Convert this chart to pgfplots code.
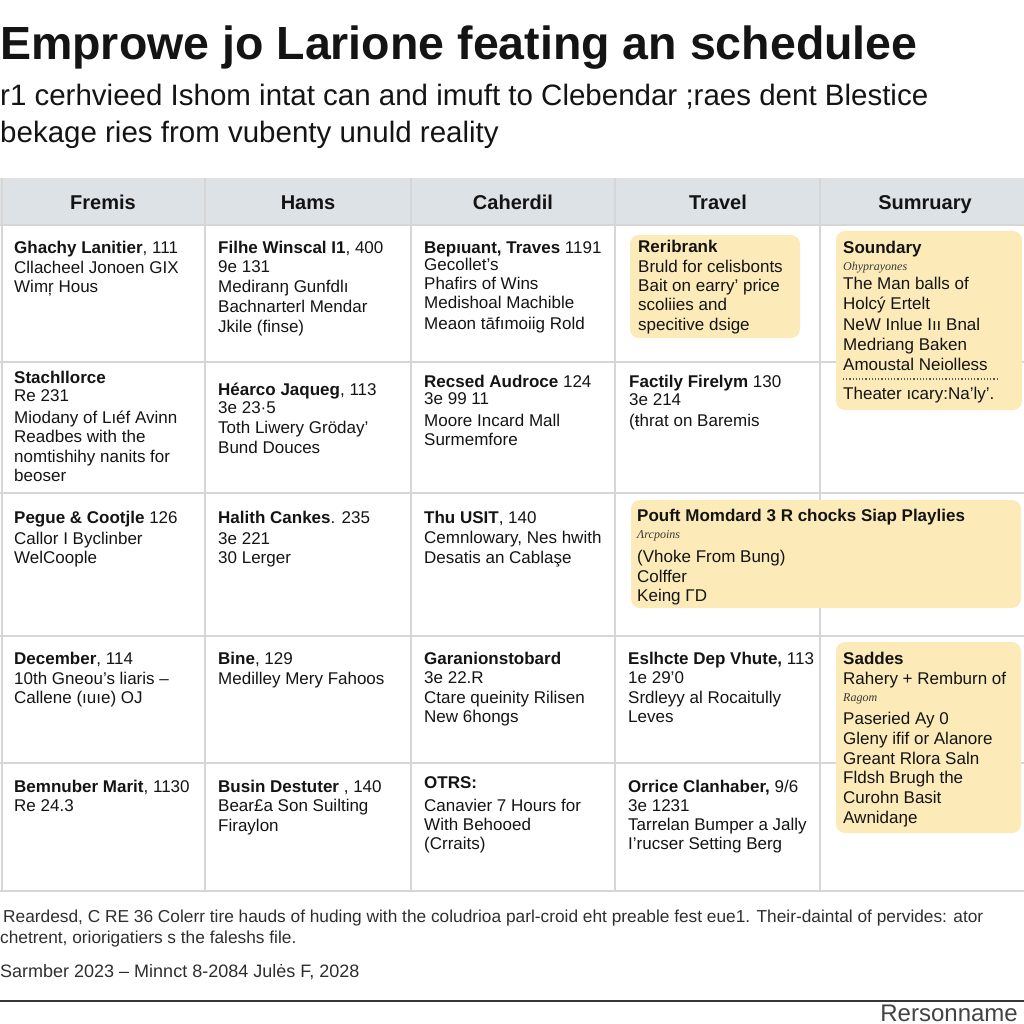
\documentclass[border=0pt]{standalone}
\usepackage{pgfplots}
\pgfplotsset{compat=1.18}
\usepackage{fontspec}
\setmainfont{Liberation Sans}
\newfontfamily\serifit{Liberation Serif}
\definecolor{hdr}{HTML}{DDE2E6}
\definecolor{gridc}{HTML}{D6D6D6}
\definecolor{boxc}{HTML}{FCEBB8}
\definecolor{txt}{HTML}{141414}
\definecolor{foot}{HTML}{2E2E2E}
\newcommand{\cf}{\fontsize{17}{20}\selectfont}
\newcommand{\Tx}[3]{\node[anchor=base west, inner sep=0pt, text=txt, font=\cf] at (axis cs:#1,#2) {#3};}
\newcommand{\Ix}[3]{\node[anchor=base west, inner sep=0pt, text=txt!85, font=\serifit\itshape\fontsize{12}{14}\selectfont] at (axis cs:#1,#2) {#3};}
\newcommand{\Hd}[2]{\node[anchor=base, inner sep=0pt, text=txt, font=\bfseries\fontsize{20}{24}\selectfont] at (axis cs:#1,210) {#2};}
\begin{document}
\begin{tikzpicture}
\begin{axis}[
  width=1024pt, height=1024pt, scale only axis,
  xmin=0, xmax=1024, ymin=0, ymax=1024, y dir=reverse,
  axis lines=none, clip=false,
]
% header band
\addplot[fill=hdr, draw=none] coordinates {(0,178) (1024,178) (1024,225) (0,225)} -- cycle;
% horizontal grid lines
\addplot[draw=gridc, line width=2pt] coordinates {(0,225) (1024,225)};
\addplot[draw=gridc, line width=2pt] coordinates {(0,362) (1024,362)};
\addplot[draw=gridc, line width=2pt] coordinates {(0,493) (1024,493)};
\addplot[draw=gridc, line width=2pt] coordinates {(0,636) (1024,636)};
\addplot[draw=gridc, line width=2pt] coordinates {(0,763) (1024,763)};
\addplot[draw=gridc, line width=2pt] coordinates {(0,891) (1024,891)};
% vertical grid lines
\addplot[draw=gridc, line width=2pt] coordinates {(1.5,178) (1.5,891)};
\addplot[draw=gridc, line width=2pt] coordinates {(205,178) (205,891)};
\addplot[draw=gridc, line width=2pt] coordinates {(411,178) (411,891)};
\addplot[draw=gridc, line width=2pt] coordinates {(615,178) (615,891)};
\addplot[draw=gridc, line width=2pt] coordinates {(820,178) (820,891)};
% highlighted boxes
\addplot[fill=boxc, draw=none, rounded corners=9pt] coordinates {(630,235) (800,235) (800,338) (630,338)} -- cycle;
\addplot[fill=boxc, draw=none, rounded corners=9pt] coordinates {(836,231) (1022,231) (1022,410) (836,410)} -- cycle;
\addplot[fill=boxc, draw=none, rounded corners=9pt] coordinates {(631,500) (1021,500) (1021,608) (631,608)} -- cycle;
\addplot[fill=boxc, draw=none, rounded corners=9pt] coordinates {(836,642) (1021,642) (1021,833) (836,833)} -- cycle;
% dotted separator
\addplot[draw=txt!70, dotted, line width=1.2pt] coordinates {(843,379) (997,379)};
% bottom rule
\addplot[draw=txt!85, line width=2.2pt] coordinates {(0,1001) (1024,1001)};

% title and subtitle
\node[anchor=base west, inner sep=0pt, text=txt, font=\bfseries\fontsize{46.5}{52}\selectfont] at (axis cs:0,60) {Emprowe jo Larione feating an schedulee};
\node[anchor=base west, inner sep=0pt, text=txt, font=\fontsize{29.5}{34}\selectfont] at (axis cs:0,106) {r1 cerhvieed Ishom intat can and imuft to Clebendar ;raes dent Blestice};
\node[anchor=base west, inner sep=0pt, text=txt, font=\fontsize{29.5}{34}\selectfont] at (axis cs:0,143) {bekage ries from vubenty unuld reality};

% headers
\Hd{103}{Fremis}
\Hd{308}{Hams}
\Hd{513}{Caherdil}
\Hd{718}{Travel}
\Hd{925}{Sumruary}

% column 1
\Tx{14}{253}{\textbf{Ghachy Lanitier}, 111}
\Tx{14}{273}{Cllacheel Jonoen GIX}
\Tx{14}{292}{Wimŗ Hous}
\Tx{14}{383}{\textbf{Stachllorce}}
\Tx{14}{401}{Re 231}
\Tx{14}{423}{Miodany of Lıéf Avinn}
\Tx{14}{442}{Readbes with the}
\Tx{14}{462}{nomtishihy nanits for}
\Tx{14}{481}{beoser}
\Tx{14}{523}{\textbf{Pegue \& Cootjle} 126}
\Tx{14}{544}{Callor I Byclinber}
\Tx{14}{563}{WelCoople}
\Tx{14}{664}{\textbf{December}, 114}
\Tx{14}{684}{10th Gneou's liaris –}
\Tx{14}{703}{Callene (ıuıe) OJ}
\Tx{14}{792}{\textbf{Bemnuber Marit}, 1130}
\Tx{14}{811}{Re 24.3}

% column 2
\Tx{218}{253}{\textbf{Filhe Winscal I1}, 400}
\Tx{218}{272}{9e 131}
\Tx{218}{292}{Mediranŋ Gunfdlı}
\Tx{218}{312}{Bachnarterl Mendar}
\Tx{218}{332}{Jkile (finse)}
\Tx{218}{395}{\textbf{Héarco Jaqueg}, 113}
\Tx{218}{413}{3e 23·5}
\Tx{218}{433}{Toth Liwery Gröday'}
\Tx{218}{453}{Bund Douces}
\Tx{218}{523}{\textbf{Halith Cankes}. 235}
\Tx{218}{544}{3e 221}
\Tx{218}{563}{30 Lerger}
\Tx{218}{664}{\textbf{Bine}, 129}
\Tx{218}{684}{Medilley Mery Fahoos}
\Tx{218}{792}{\textbf{Busin Destuter} , 140}
\Tx{218}{811}{Bear£a Son Suilting}
\Tx{218}{831}{Firaylon}

% column 3
\Tx{424}{253}{\textbf{Bepıuant, Traves} 1191}
\Tx{424}{270}{Gecollet's}
\Tx{424}{289}{Phafirs of Wins}
\Tx{424}{308}{Medishoal Machible}
\Tx{424}{329}{Meaon tāfımoiig Rold}
\Tx{424}{387}{\textbf{Recsed Audroce} 124}
\Tx{424}{404}{3e 99 11}
\Tx{424}{426}{Moore Incard Mall}
\Tx{424}{445}{Surmemfore}
\Tx{424}{523}{\textbf{Thu USIT}, 140}
\Tx{424}{543}{Cemnlowary, Nes hwith}
\Tx{424}{563}{Desatis an Cablaşe}
\Tx{424}{664}{\textbf{Garanionstobard}}
\Tx{424}{683}{3e 22.R}
\Tx{424}{703}{Ctare queinity Rilisen}
\Tx{424}{722}{New 6hongs}
\Tx{424}{788}{\textbf{OTRS:}}
\Tx{424}{811}{Canavier 7 Hours for}
\Tx{424}{830}{With Behooed}
\Tx{424}{849}{(Crraits)}

% column 4
\Tx{638}{252}{\textbf{Reribrank}}
\Tx{638}{272}{Bruld for celisbonts}
\Tx{638}{291}{Bait on earry' price}
\Tx{638}{310}{scoliies and}
\Tx{638}{330}{specitive dsige}
\Tx{629}{387}{\textbf{Factily Firelym} 130}
\Tx{629}{405}{3e 214}
\Tx{629}{426}{(ŧhrat on Baremis}
\Tx{637}{521}{\textbf{Pouft Momdard 3 R chocks Siap Playlies}}
\Ix{637}{538}{Λrcpoins}
\Tx{637}{562}{(Vhoke From Bung)}
\Tx{637}{582}{Colffer}
\Tx{637}{601}{Keing ΓD}
\Tx{628}{664}{\textbf{Eslhcte Dep Vhute,} 113}
\Tx{628}{683}{1e 29'0}
\Tx{628}{703}{Srdleyy al Rocaitully}
\Tx{628}{722}{Leves}
\Tx{628}{792}{\textbf{Orrice Clanhaber,} 9/6}
\Tx{628}{811}{3e 1231}
\Tx{628}{830}{Tarrelan Bumper a Jally}
\Tx{628}{849}{I'rucser Setting Berg}

% column 5
\Tx{843}{253}{\textbf{Soundary}}
\Ix{843}{270}{Ohyprayones}
\Tx{843}{289}{The Man balls of}
\Tx{843}{309}{Holcý Ertelt}
\Tx{843}{330}{NeW Inlue Iıı Bnal}
\Tx{843}{350}{Medriang Baken}
\Tx{843}{370}{Amoustal Neiolless}
\Tx{843}{399}{Theater ıcary:Na'ly'.}
\Tx{843}{664}{\textbf{Saddes}}
\Tx{843}{684}{Rahery + Remburn of}
\Ix{843}{701}{Ragom}
\Tx{843}{724}{Paseried Ay 0}
\Tx{843}{744}{Gleny ifif or Alanore}
\Tx{843}{764}{Greant Rlora Saln}
\Tx{843}{783}{Fldsh Brugh the}
\Tx{843}{803}{Curohn Basit}
\Tx{843}{823}{Awnidaŋe}

% footer
\node[anchor=base west, inner sep=0pt, text=foot, font=\fontsize{17.3}{20}\selectfont] at (axis cs:3,922) {Reardesd, C RE 36 Colerr tire hauds of huding with the coludrioa parl-croid eht preable fest eue1. Their-daintal of pervides: ator};
\node[anchor=base west, inner sep=0pt, text=foot, font=\fontsize{17.3}{20}\selectfont] at (axis cs:0,943) {chetrent, oriorigatiers s the faleshs file.};
\node[anchor=base west, inner sep=0pt, text=foot, font=\fontsize{18}{20}\selectfont] at (axis cs:0,977) {Sarmber 2023 – Minnct 8-2084 Julės F, 2028};
\node[anchor=base east, inner sep=0pt, text=txt!80, font=\fontsize{24}{28}\selectfont] at (axis cs:1018,1021) {Rersonname};
\end{axis}
\pgfresetboundingbox
\path (current axis.south west) rectangle (current axis.north east);
\end{tikzpicture}
\end{document}
